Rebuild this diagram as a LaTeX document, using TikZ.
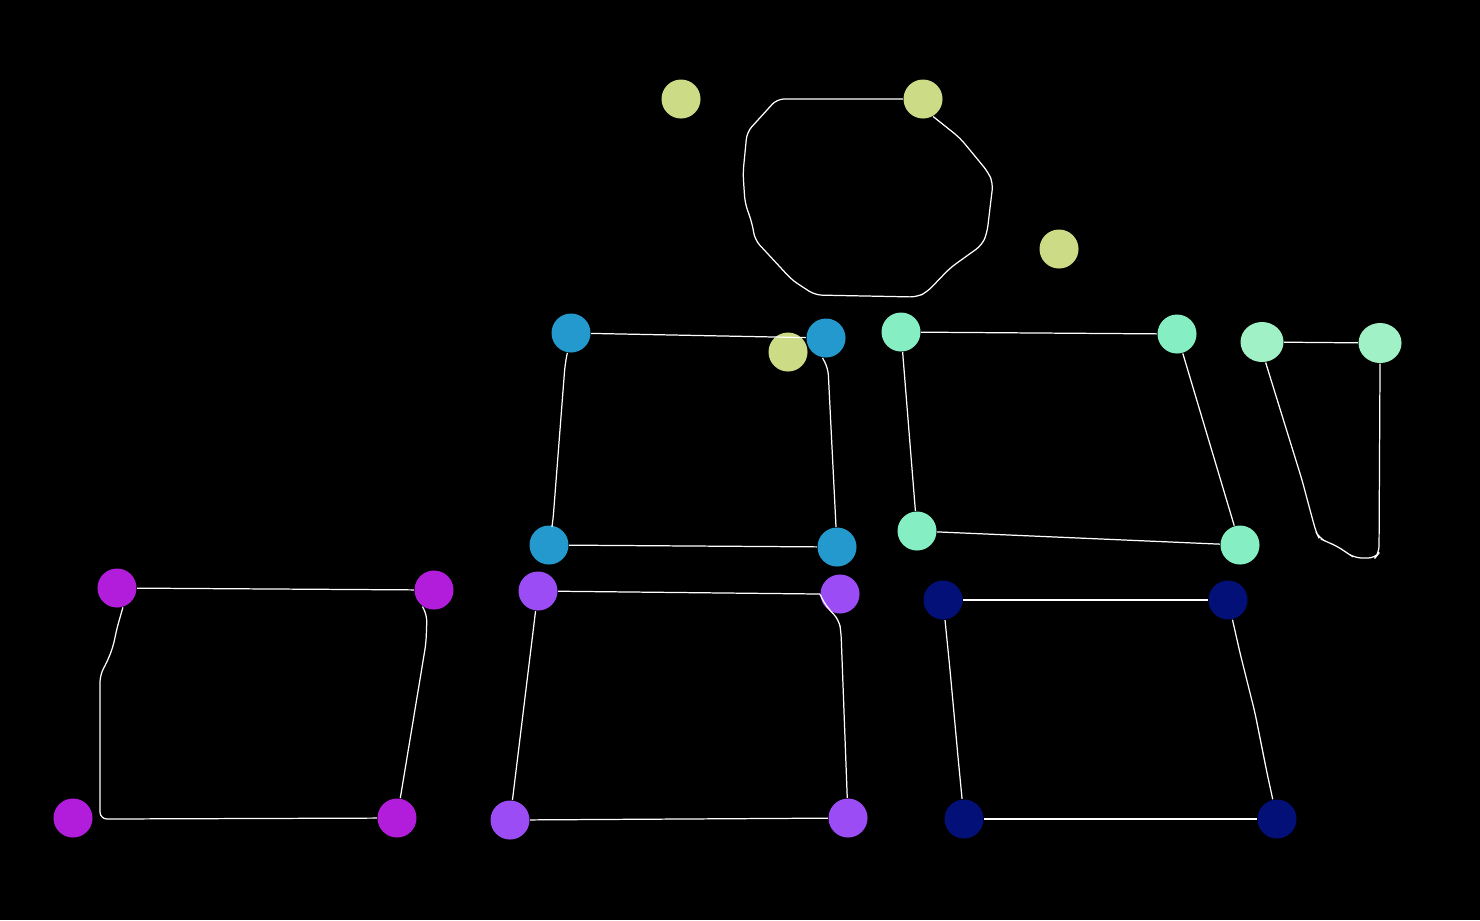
\documentclass[tikz,border=0pt]{standalone}
\usepackage{tikz}
\usetikzlibrary{shapes.geometric}
\definecolor{leafgreen}{RGB}{204,219,133}
\definecolor{skyblue}{RGB}{35,153,205}
\definecolor{mintgreen}{RGB}{134,238,195}
\definecolor{foamgreen}{RGB}{160,242,198}
\definecolor{orchid}{RGB}{178,28,219}
\definecolor{lilac}{RGB}{155,76,245}
\definecolor{deepnavy}{RGB}{2,16,120}
\tikzset{
	ball/.style={circle, inner sep=0pt, minimum size=0.39cm, draw=none},
	egg/.style={ellipse, inner sep=0pt, minimum width=0.43cm, minimum height=0.4cm, draw=none},
	wire/.style={draw=white, line width=0.35pt, rounded corners=2pt}
}

\begin{document}
\begin{tikzpicture}[x=0.01cm, y=-0.01cm]
		%%%%% START %%%%%
		
		\fill[black] (0, 0) rectangle (1480, 920);
		
		% top group
		\node[ball, fill=leafgreen] (y1) at (681, 99) {};
		\node[ball, fill=leafgreen] (y2) at (923, 99) {};
		\node[ball, fill=leafgreen] (y3) at (1059, 249) {};
		\node[ball, fill=leafgreen] (y4) at (788, 352) {};
		
		\node[ball, fill=skyblue] (b1) at (571, 333) {};
		\node[ball, fill=skyblue] (b2) at (826, 338) {};
		\node[ball, fill=skyblue] (b3) at (549, 545) {};
		\node[ball, fill=skyblue] (b4) at (837, 547) {};
		
		\node[ball, fill=mintgreen] (m1) at (901, 332) {};
		\node[ball, fill=mintgreen] (m2) at (1177, 334) {};
		\node[ball, fill=mintgreen] (m3) at (917, 531) {};
		\node[ball, fill=mintgreen] (m4) at (1240, 545) {};
		
		\node[egg, fill=foamgreen] (f1) at (1262, 342) {};
		\node[egg, fill=foamgreen] (f2) at (1380, 343) {};
		
		% bottom group
		\node[ball, fill=orchid] (p1) at (117, 588) {};
		\node[ball, fill=orchid] (p2) at (434, 590) {};
		\node[ball, fill=orchid] (p3) at (73, 818) {};
		\node[ball, fill=orchid] (p4) at (397, 818) {};
		
		\node[ball, fill=lilac] (v1) at (538, 591) {};
		\node[ball, fill=lilac] (v2) at (840, 594) {};
		\node[ball, fill=lilac] (v3) at (510, 820) {};
		\node[ball, fill=lilac] (v4) at (848, 818) {};
		
		\node[ball, fill=deepnavy] (n1) at (943, 600) {};
		\node[ball, fill=deepnavy] (n2) at (1228, 600) {};
		\node[ball, fill=deepnavy] (n3) at (964, 819) {};
		\node[ball, fill=deepnavy] (n4) at (1277, 819) {};
		
		% wires
		\draw[wire] (y2.west) -- (777, 99) -- (747, 132) -- (743, 173) -- (745, 203) -- (752, 223) -- (755, 240) -- (780, 267) -- (792, 280) -- (815, 295) -- (917, 297) -- (927, 292) -- (950, 268) -- (982, 245) -- (987, 233) -- (993, 183) -- (988, 172) -- (960, 138) -- (950, 130) -- (y2.-60);
		
		\draw[wire] (b1) -- (b2);
		\draw[wire] (b1) -- (565, 365) -- (553, 520) -- (b3);
		\draw[wire] (b2.-100) -- (828, 368) -- (b4);
		\draw[wire] (b3) -- (b4);
		
		\draw[wire] (m1) -- (m2);
		\draw[wire] (m1) -- (m3);
		\draw[wire] (m2) -- (m4);
		\draw[wire] (m3) -- (m4);
		
		\draw[wire] (f1) -- (f2);
		\draw[wire] (f2.south) -- (1379, 553) -- (1375, 558) -- (1355, 558) -- (1347, 553) -- (1337, 546) -- (1327, 542) -- (1319, 538) -- (1316, 532) -- (1310, 510) -- (1302, 480) -- (f1.-80);
		
		\draw[wire] (p1) -- (p2);
		\draw[wire] (p2.235) -- (427, 615) -- (426, 643) -- (p4);
		\draw[wire] (p1.-73) -- (117, 628) -- (113, 647) -- (107, 662) -- (100, 675) -- (100, 819) -- (p4);
		
		\draw[wire] (v1) -- (v2.west);
		\draw[wire] (v2.west) -- (826, 606) -- (839, 620) -- (841, 632) -- (v4);
		\draw[wire] (v1) -- (v3);
		\draw[wire] (v3) -- (v4);
		
		\draw[wire] (n1) -- (n2);
		\draw[wire] (n1) -- (950, 670) -- (958, 757) -- (n3);
		\draw[wire] (n2) -- (1240, 653) -- (1255, 713) -- (1267, 773) -- (n4);
		\draw[wire] (n3) -- (n4);
		
		%%%%% END %%%%%
	\end{tikzpicture}
\end{document}
